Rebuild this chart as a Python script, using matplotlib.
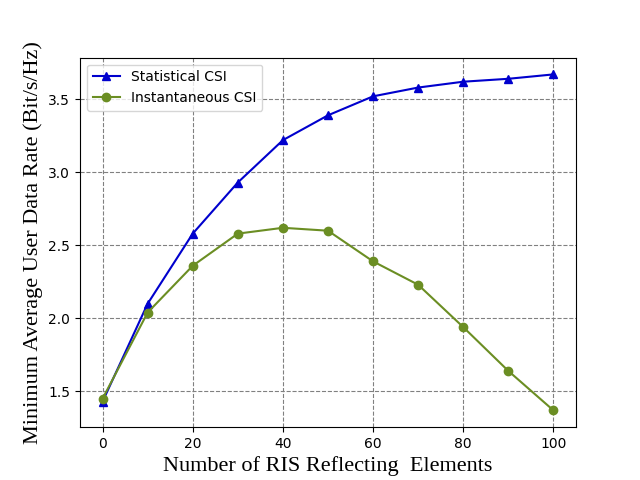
import matplotlib.pyplot as plt
import numpy as np

elements = [0, 10, 20, 30, 40, 50, 60, 70, 80, 90, 100]
statistical_csi = [1.43, 2.10, 2.58, 2.93, 3.22, 3.39, 3.52, 3.58, 3.62, 3.64, 3.67]
instantaneous_csi = [1.45, 2.04, 2.36, 2.58, 2.62, 2.60, 2.39, 2.23, 1.94, 1.64, 1.37]

fig, ax = plt.subplots(figsize=(6.4, 4.8), dpi=100)
ax.plot(elements, statistical_csi, color="mediumblue", marker="^", markersize=6,
        label="Statistical CSI")
ax.plot(elements, instantaneous_csi, color="olivedrab", marker="o", markersize=6,
        label="Instantaneous CSI")

ax.grid(True, linestyle="--", color="gray")
ax.set_xlabel("Number of RIS Reflecting  Elements", family="Liberation Serif", fontsize=16)
ax.set_ylabel("Minimum Average User Data Rate (Bit/s/Hz)", family="Liberation Serif", fontsize=16)
ax.legend(loc="upper left")

fig.savefig("out.png", dpi=100)
